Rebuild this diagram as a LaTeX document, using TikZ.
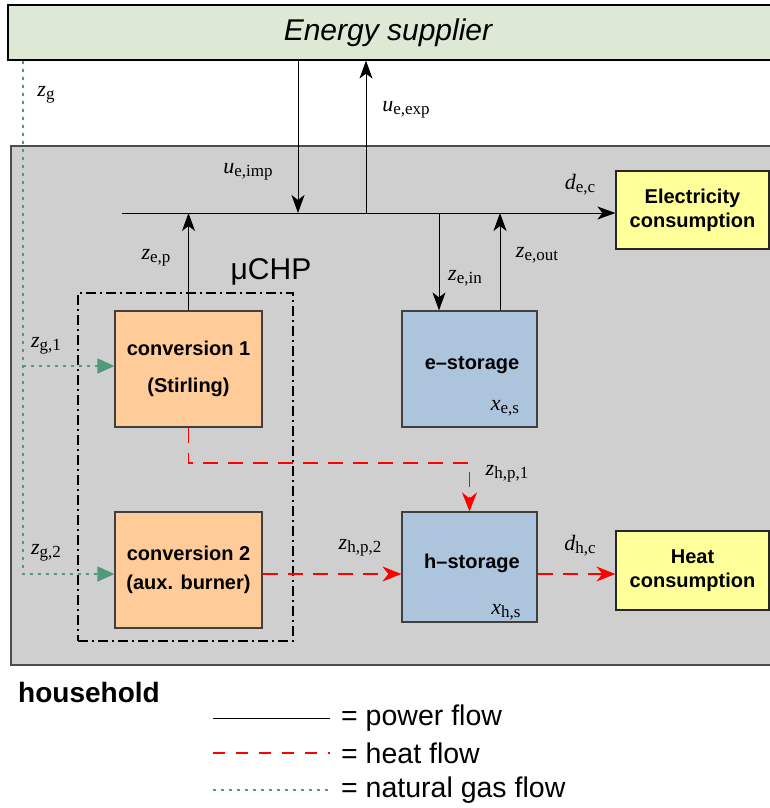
\documentclass[tikz,border=0pt]{standalone}
\usepackage{fontspec}
\setmainfont{Liberation Sans}
\newfontfamily\tmr{Liberation Serif}
\usetikzlibrary{arrows.meta}
\definecolor{supgreen}{HTML}{DDE8D5}
\definecolor{hhgray}{HTML}{CFCFCF}
\definecolor{convor}{HTML}{FFCC99}
\definecolor{storblue}{HTML}{ADC4DD}
\definecolor{consyel}{HTML}{FFFF99}
\definecolor{gasgreen}{HTML}{4F9A7A}
\newcommand\fl[2]{{\tmr\fontsize{22}{24}\selectfont\textit{#1}\raisebox{-0.3ex}{\fontsize{17}{18}\selectfont #2}}}
\begin{document}
\begin{tikzpicture}[x=1pt,y=-1pt,
  box/.style={draw=black!75,line width=1.2pt,inner sep=0pt,font=\fontsize{20}{24}\selectfont\bfseries,align=center},
  convbox/.style={box,fill=convor,minimum width=147pt,minimum height=116pt},
  storbox/.style={box,fill=storblue,minimum width=135pt},
  consbox/.style={box,fill=consyel,draw=black!85,minimum width=153pt,minimum height=78pt},
  pw/.style={draw=black,line width=1pt,-{Stealth[length=18pt,width=13pt,inset=5pt]}},
  ht/.style={draw=red,line width=1.8pt,dash pattern=on 15pt off 10pt,-{Stealth[length=19pt,width=15pt,inset=6pt]}},
  gs/.style={draw=gasgreen,line width=1.8pt,dash pattern=on 3pt off 5pt,-{Triangle[length=17pt,width=15pt]}},
  lbl/.style={inner sep=0pt},
  legtxt/.style={anchor=west,inner sep=0pt,font=\fontsize{28.5}{30}\selectfont}
]
\useasboundingbox (0,0) rectangle (770,808);
% main areas
\node[draw=black,line width=1.2pt,fill=supgreen,minimum width=767pt,minimum height=55pt,inner sep=0pt] (sup) at (391.5,32.5) {};
\node[font=\fontsize{30}{34}\selectfont\itshape,inner sep=0pt] (suptxt) at (388,33) {Energy supplier};
\node[draw=black!70,line width=1.2pt,fill=hhgray,minimum width=764pt,minimum height=519pt,inner sep=0pt] (house) at (393,405.5) {};
% boxes
\node[draw=black,line width=1.8pt,dash pattern=on 10pt off 4pt on 2pt off 4pt,minimum width=215pt,minimum height=348pt,inner sep=0pt] (chp) at (185.5,467) {};
\node[lbl,font=\fontsize{30}{32}\selectfont] (chptxt) at (271,272) {μCHP};
\node[convbox] (conv1) at (188.5,369) {conversion 1\\[13pt](Stirling)};
\node[convbox] (conv2) at (188.5,570) {conversion 2\\[5pt](aux. burner)};
\node[storbox,minimum height=116pt] (estor) at (469.5,369) {};
\node[lbl,font=\fontsize{20}{24}\selectfont\bfseries] (estortxt) at (472,365) {e–storage};
\node[storbox,minimum height=110pt] (hstor) at (469.5,567) {};
\node[lbl,font=\fontsize{20}{24}\selectfont\bfseries] (hstortxt) at (472,563) {h–storage};
\node[consbox] (elec) at (692.5,210) {Electricity\\consumption};
\node[consbox,minimum height=79pt] (heat) at (692.5,570.5) {Heat\\consumption};
% coordinates
\coordinate (busL) at (122,213);
\coordinate (jimp) at (298,213);
\coordinate (jexp) at (366,213);
\coordinate (jep) at (188.5,213);
\coordinate (jin) at (439,213);
\coordinate (jout) at (500,213);
\coordinate (hb) at (469.5,463);
\coordinate (hy) at (0,574);
\coordinate (g1) at (23,366);
\coordinate (g2) at (23,574);
% power flows
\draw[pw] (busL) -- (busL -| elec.west);
\draw[pw] (sup.south -| jimp) -- (jimp);
\draw[pw] (jexp) -- (sup.south -| jexp);
\draw[pw] (conv1.north) -- (jep);
\draw[pw] (jin) -- (jin |- estor.north);
\draw[pw] (jout |- estor.north) -- (jout);
% heat flows
\draw[ht] (conv1.south) |- (hb) -- (hstor.north);
\draw[ht] (conv2.east |- hy) -- (hstor.west |- hy);
\draw[ht] (hstor.east |- hy) -- (heat.west |- hy);
% gas flows
\draw[gs] (sup.south -| g2) -- (g2) -- (conv2.west |- g2);
\draw[gs] (g1) -- (conv1.west |- g1);
% labels
\node[lbl] (lzg) at (46,95) {\fl{z}{g}};
\node[lbl] (luexp) at (406,110) {\fl{u}{e,exp}};
\node[lbl] (luimp) at (248,172) {\fl{u}{e,imp}};
\node[lbl] (lzep) at (156,258) {\fl{z}{e,p}};
\node[lbl] (ldec) at (580,185) {\fl{d}{e,c}};
\node[lbl] (lzein) at (465,278) {\fl{z}{e,in}};
\node[lbl] (lzeout) at (537,255) {\fl{z}{e,out}};
\node[lbl] (lzg1) at (46,346) {\fl{z}{g,1}};
\node[lbl] (lzg2) at (46,553) {\fl{z}{g,2}};
\node[lbl] (lzhp1) at (507,474) {\fl{z}{h,p,1}};
\node[lbl] (lzhp2) at (360,548) {\fl{z}{h,p,2}};
\node[lbl] (ldhc) at (580,546) {\fl{d}{h,c}};
\node[lbl] (lxes) at (505,408) {\fl{x}{e,s}};
\node[lbl] (lxhs) at (506,612) {\fl{x}{h,s}};
% legend
\node[anchor=west,inner sep=0pt,font=\fontsize{28}{30}\selectfont\bfseries] (hh) at (18,692) {household};
\coordinate (lp1) at (213,718); \coordinate (lp2) at (330,718);
\coordinate (lh1) at (213,753); \coordinate (lh2) at (330,753);
\coordinate (lg1) at (213,790); \coordinate (lg2) at (330,790);
\draw[black,line width=1pt] (lp1) -- (lp2);
\draw[red,line width=1.8pt,dash pattern=on 12pt off 11pt] (lh1) -- (lh2);
\draw[gasgreen,line width=1.8pt,dash pattern=on 3pt off 5pt] (lg1) -- (lg2);
\node[legtxt] (t1) at (341,718) {= power flow};
\node[legtxt] (t2) at (341,753) {= heat flow};
\node[legtxt] (t3) at (341,790) {= natural gas flow};
\end{tikzpicture}
\end{document}
